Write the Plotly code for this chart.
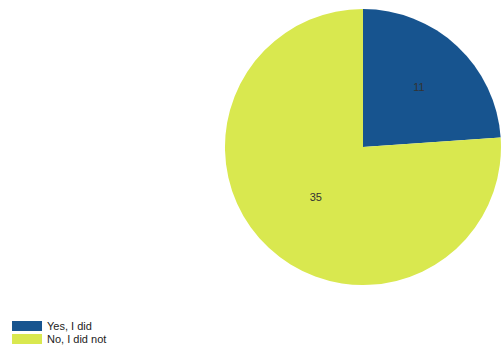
import plotly.graph_objects as go

categories = ["Yes, I did", "No, I did not"]
values = [11, 35]
colors = ["#17548f", "#d9e84f"]

fig = go.Figure()
fig.add_trace(go.Pie(
    labels=categories, values=values, sort=False, direction="clockwise", rotation=0,
    marker=dict(colors=colors, line=dict(width=0)),
    textinfo="value", textposition="inside", insidetextorientation="horizontal",
    textfont=dict(family="Liberation Sans, Arial", size=11, color="#333333"),
    showlegend=False, hoverinfo="label+value",
    domain=dict(x=[0.449, 1.0], y=[0.1739, 0.9739]),
))
legend_ids = ["legend", "legend2"]
for name, col, lid in zip(categories, colors, legend_ids):
    fig.add_trace(go.Scatter(x=[None], y=[None], mode="lines", name=name, legend=lid,
                             line=dict(color=col, width=10), hoverinfo="skip"))

legend_style = dict(xanchor="left", yanchor="middle",
                    font=dict(family="Liberation Sans, Arial", size=11, color="#222222"),
                    itemwidth=30, bgcolor="rgba(0,0,0,0)")
fig.update_layout(
    width=501, height=345, margin=dict(l=0, r=0, t=0, b=0, autoexpand=False),
    paper_bgcolor="white", plot_bgcolor="white",
    xaxis=dict(visible=False), yaxis=dict(visible=False),
    legend=dict(x=0.014, y=(345 - 326) / 345, **legend_style),
    legend2=dict(x=0.014, y=(345 - 339) / 345, **legend_style),
    font=dict(family="Liberation Sans, Arial"),
)
fig.write_html("out.html")
